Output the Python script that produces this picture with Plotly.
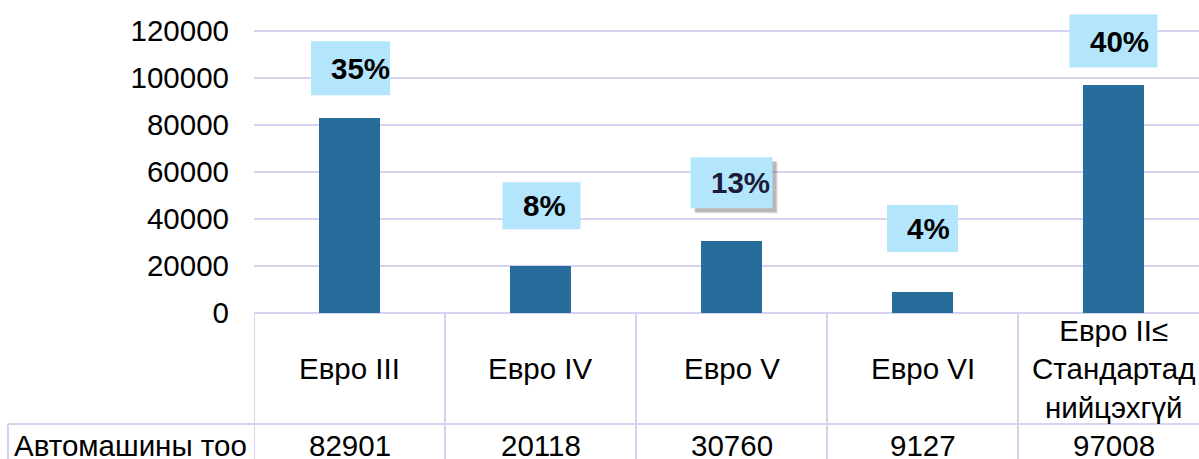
import plotly.graph_objects as go

categories = ["Евро III", "Евро IV", "Евро V", "Евро VI", "Евро II≤<br>Стандартад<br>нийцэхгүй"]
values = [82901, 20118, 30760, 9127, 97008]
shares = ["35%", "8%", "13%", "4%", "40%"]
row_header = "Автомашины тоо"
tick_vals = [0, 20000, 40000, 60000, 80000, 100000, 120000]

# label box styling (pixels): width, height, centre offset above bar top, x offset
box_w = [79, 78, 82, 71, 88]
box_h = [54, 47, 51, 47, 53]
box_dy = [50, 60, 58, 63, 44]
box_dx = [1, 1, 0, 0, 0]

FONT = "Arial, Liberation Sans, sans-serif"
GRID = "#d6d2f0"
BAR = "#266d9c"
BOX = "#b3e5fc"
FS = 29.5

x = list(range(len(categories)))

fig = go.Figure()
fig.add_trace(go.Bar(x=x, y=values, width=0.315, marker=dict(color=BAR, line=dict(width=0)),
                     hoverinfo="skip"))

shapes = []
annotations = []

# label boxes
for i, v in enumerate(values):
    if i == 2:
        for off, op in [(5, 0.15), (4, 0.25)]:
            shapes.append(dict(type="rect", xref="x", yref="y", xsizemode="pixel", ysizemode="pixel",
                               xanchor=i, yanchor=v,
                               x0=box_dx[i] - box_w[i] / 2 + off, x1=box_dx[i] + box_w[i] / 2 + off,
                               y0=box_dy[i] - box_h[i] / 2 - off, y1=box_dy[i] + box_h[i] / 2 - off,
                               fillcolor="rgba(60,60,60,%s)" % op, line=dict(width=0), layer="above"))
    shapes.append(dict(type="rect", xref="x", yref="y", xsizemode="pixel", ysizemode="pixel",
                       xanchor=i, yanchor=v,
                       x0=box_dx[i] - box_w[i] / 2, x1=box_dx[i] + box_w[i] / 2,
                       y0=box_dy[i] - box_h[i] / 2, y1=box_dy[i] + box_h[i] / 2,
                       fillcolor=BOX, line=dict(width=0), layer="above"))
    annotations.append(dict(x=i, y=v, xref="x", yref="y", text="<b>%s</b>" % shares[i],
                            showarrow=False, xanchor="left", yanchor="middle",
                            xshift=box_dx[i] - box_w[i] / 2 + 18, yshift=box_dy[i],
                            font=dict(family=FONT, size=FS,
                                      color="#1b1b3a" if i == 2 else "#000000")))

# table geometry (paper coords): plot spans 313px high, 945px wide
row_sep = -111 / 313
bottom = -0.5
left = -246 / 945

for k in range(len(categories)):
    xb = k - 0.5
    shapes.append(dict(type="line", xref="x", yref="paper", x0=xb, x1=xb, y0=0, y1=bottom,
                       line=dict(color=GRID, width=2)))
shapes.append(dict(type="line", xref="paper", yref="paper", x0=left, x1=1, y0=row_sep, y1=row_sep,
                   line=dict(color=GRID, width=2)))
shapes.append(dict(type="line", xref="paper", yref="paper", x0=left, x1=left, y0=row_sep, y1=bottom,
                   line=dict(color=GRID, width=2)))

for i, c in enumerate(categories):
    annotations.append(dict(x=i, y=-55.5 / 313, xref="x", yref="paper", text=c, showarrow=False,
                            xanchor="center", yanchor="middle",
                            font=dict(family=FONT, size=FS, color="#000000")))
    annotations.append(dict(x=i, y=-132.5 / 313, xref="x", yref="paper", text=f"{values[i]}",
                            showarrow=False, xanchor="center", yanchor="middle",
                            font=dict(family=FONT, size=FS, color="#000000")))
annotations.append(dict(x=-242 / 945, y=-132.5 / 313, xref="paper", yref="paper", text=row_header,
                        showarrow=False, xanchor="left", yanchor="middle",
                        font=dict(family=FONT, size=FS, color="#000000")))

fig.update_layout(
    width=1199, height=459,
    margin=dict(l=254, r=0, t=0, b=146),
    paper_bgcolor="white", plot_bgcolor="white",
    showlegend=False,
    bargap=0,
    xaxis=dict(range=[-0.5, -0.5 + 945 / 191], showticklabels=False, showgrid=False,
               zeroline=False, showline=False, fixedrange=True),
    yaxis=dict(range=[0, 313 / 47 * 20000], tickvals=tick_vals, ticktext=[str(t) for t in tick_vals],
               showgrid=True, gridcolor=GRID, gridwidth=2, zeroline=True, zerolinecolor=GRID,
               zerolinewidth=2, showline=False, ticks="", ticklabelstandoff=24,
               tickfont=dict(family=FONT, size=FS, color="#000000"), fixedrange=True),
    shapes=shapes,
    annotations=annotations,
)

fig.write_html("out.html", config={"displayModeBar": False},
               post_script="document.body.style.margin='0';document.body.style.overflow='hidden';")
